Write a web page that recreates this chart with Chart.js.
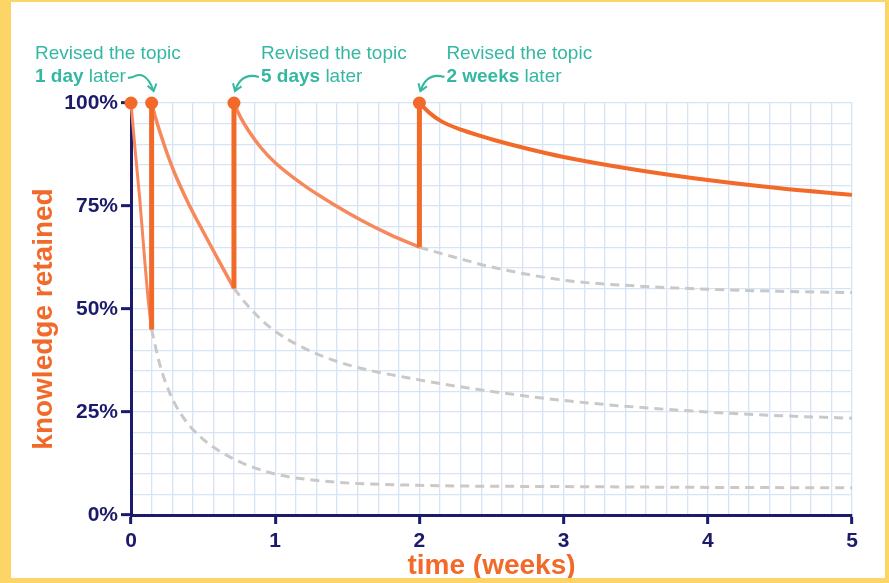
<!DOCTYPE html>
<html>
<head>
<meta charset="utf-8">
<script src="https://cdn.jsdelivr.net/npm/chart.js@4.4.1/dist/chart.umd.min.js"></script>
<style>
  body { margin: 0; width: 889px; height: 583px; background: #FDD466; overflow: hidden; }
  #wrap { position: absolute; left: 11px; top: 2px; width: 874px; height: 576px; background: #ffffff; }
</style>
</head>
<body>
<div id="wrap"><canvas id="chart" width="874" height="576"></canvas></div>
<script>
// tick labels
const weekLabels = [0, 1, 2, 3, 4, 5];
const percentLabels = [0, 25, 50, 75, 100];

// revision points (weeks) and retention just before each revision
const reviseX = [0, 0.143, 0.714, 2];
const reviseY = [100, 100, 100, 100];
const dropY = [45, 55, 65];
const reviseText = ['1 day', '5 days', '2 weeks'];

// solid forgetting curves [week, %]
const forget1 = [[0, 100], [0.03, 88], [0.06, 77], [0.09, 64], [0.12, 52], [0.143, 45]];
const forget2 = [[0.143, 100], [0.17, 96.5], [0.2, 93], [0.25, 87.8], [0.3, 83.2], [0.4, 75.5], [0.5, 68.8], [0.6, 62.3], [0.714, 55]];
const forget3 = [[0.714, 100], [0.76, 96.5], [0.82, 93], [0.9, 89.2], [1, 85.5], [1.2, 80], [1.4, 75.5], [1.6, 71.5], [1.8, 68], [2, 65]];
const forget4 = [[2, 100], [2.07, 97.6], [2.15, 95.6], [2.3, 93.4], [2.5, 91.2], [2.75, 88.9], [3, 86.9], [3.5, 83.8], [4, 81.3], [4.5, 79.3], [5, 77.7]];

// dashed "no revision" curves
const fade1 = [[0.143, 45], [0.2, 36.5], [0.27, 29.5], [0.35, 24.3], [0.48, 19], [0.69, 14], [0.96, 10.3], [1.31, 8.3], [2, 7.2], [3, 6.9], [4, 6.7], [5, 6.6]];
const fade2 = [[0.714, 55], [0.8, 51.2], [0.9, 47.5], [1.0, 44.6], [1.2, 40.5], [1.5, 36.5], [2, 32.8], [2.5, 30], [3, 27.8], [3.5, 26.2], [4, 25], [4.5, 24.1], [5, 23.5]];
const fade3 = [[2, 65], [2.25, 62.5], [2.5, 60.2], [3, 57], [3.5, 55.6], [4, 54.8], [4.5, 54.3], [5, 54]];

const NAVY = '#1C1A6B';
const ORANGE = '#F26A2A';
const LIGHT = '#F6885C';
const GREY = '#C9C9C9';
const TEAL = '#35B8A2';
const GRID = '#D6E4F4';

const pts = arr => arr.map(p => ({ x: p[0], y: p[1] }));

function solid(data, color, width) {
    return { data: pts(data), borderColor: color, borderWidth: width, pointRadius: 0,
        cubicInterpolationMode: 'monotone', fill: false, clip: false, order: 2 };
}
function dashed(data) {
    return { data: pts(data), borderColor: GREY, borderWidth: 3, borderDash: [9, 6], pointRadius: 0,
        cubicInterpolationMode: 'monotone', fill: false, clip: false, order: 3 };
}

const datasets = [
    dashed(fade1), dashed(fade2), dashed(fade3),
    solid(forget1, LIGHT, 3), solid(forget2, LIGHT, 3.5), solid(forget3, LIGHT, 3.5), solid(forget4, ORANGE, 4)
];
// vertical revision jumps
dropY.forEach((v, i) => {
    datasets.push({ data: [{ x: reviseX[i + 1], y: v }, { x: reviseX[i + 1], y: reviseY[i + 1] }],
        borderColor: ORANGE, borderWidth: 5, pointRadius: 0, tension: 0, clip: false, order: 1 });
});
// revision markers
datasets.push({ data: reviseX.map((x, i) => ({ x: x, y: reviseY[i] })), showLine: false,
    pointRadius: 6.5, pointBackgroundColor: ORANGE, pointBorderWidth: 0, clip: false, order: 0 });

const isInt = v => Math.abs(v - Math.round(v)) < 1e-6;

const annotations = {
    id: 'annotations',
    afterDraw(chart) {
        const ctx = chart.ctx;
        const xs = chart.scales.x, ys = chart.scales.y;
        const area = chart.chartArea;
        ctx.save();

        // axis titles
        ctx.fillStyle = ORANGE;
        ctx.font = 'bold 28px "Liberation Sans", Arial, sans-serif';
        ctx.textAlign = 'center';
        ctx.textBaseline = 'middle';
        ctx.fillText('time (weeks)', (area.left + area.right) / 2, 564);
        ctx.translate(33, (area.top + area.bottom) / 2 + 10);
        ctx.rotate(-Math.PI / 2);
        ctx.fillText('knowledge retained', 0, 0);
        ctx.restore();

        // "Revised the topic" notes
        ctx.save();
        ctx.fillStyle = TEAL;
        ctx.strokeStyle = TEAL;
        ctx.lineWidth = 2;
        ctx.textBaseline = 'alphabetic';
        ctx.textAlign = 'left';
        const top = ys.getPixelForValue(100);
        reviseText.forEach((txt, i) => {
            const mx = xs.getPixelForValue(reviseX[i + 1]);
            const left = i === 0 ? 24 : mx + 27;
            ctx.font = '19px "Liberation Sans", Arial, sans-serif';
            ctx.fillText('Revised the topic', left, 57);
            ctx.font = 'bold 19px "Liberation Sans", Arial, sans-serif';
            ctx.fillText(txt, left, 80);
            const bw = ctx.measureText(txt).width;
            ctx.font = '19px "Liberation Sans", Arial, sans-serif';
            ctx.fillText(' later', left + bw, 80);
            const lw = ctx.measureText(' later').width;

            ctx.beginPath();
            let tipX, tipY, ang;
            if (i === 0) {
                const sx = left + bw + lw + 2;
                ctx.moveTo(sx, 76);
                ctx.lineTo(sx + 5, 75);
                ctx.bezierCurveTo(sx + 12, 71, mx - 4, 72, mx + 2, top - 12);
                tipX = mx + 2; tipY = top - 12; ang = Math.atan2(8, 2);
            } else {
                const sx = left - 2;
                ctx.moveTo(sx, 75);
                ctx.bezierCurveTo(sx - 10, 72, mx + 6, 74, mx + 1, top - 12);
                tipX = mx + 1; tipY = top - 12; ang = Math.atan2(8, -3);
            }
            ctx.stroke();
            // arrow head
            ctx.beginPath();
            ctx.moveTo(tipX - 8 * Math.cos(ang - 0.6), tipY - 8 * Math.sin(ang - 0.6));
            ctx.lineTo(tipX, tipY);
            ctx.lineTo(tipX - 8 * Math.cos(ang + 0.6), tipY - 8 * Math.sin(ang + 0.6));
            ctx.stroke();
        });
        ctx.restore();
    }
};

new Chart(document.getElementById('chart'), {
    type: 'line',
    data: { datasets: datasets },
    options: {
        responsive: false,
        animation: false,
        layout: { padding: { top: 101, right: 33, left: 0, bottom: 0 } },
        plugins: { legend: { display: false }, tooltip: { enabled: false } },
        scales: {
            x: {
                type: 'linear', min: 0, max: 5,
                afterFit: s => { s.height = 63; },
                afterBuildTicks: s => {
                    const t = [];
                    for (let i = 0; i <= 35; i++) t.push({ value: i / 7 });
                    s.ticks = t;
                },
                ticks: {
                    autoSkip: false, maxRotation: 0, padding: 5,
                    color: NAVY,
                    font: { family: '"Liberation Sans", Arial, sans-serif', size: 21, weight: 'bold' },
                    callback: v => (isInt(v) && weekLabels.includes(Math.round(v))) ? String(Math.round(v)) : ''
                },
                grid: {
                    color: GRID, lineWidth: 1.3, tickLength: 9, tickWidth: 3,
                    tickColor: c => (c.tick && isInt(c.tick.value)) ? NAVY : 'rgba(0,0,0,0)'
                },
                border: { color: NAVY, width: 3 }
            },
            y: {
                min: 0, max: 100,
                afterFit: s => { s.width = 120; },
                ticks: {
                    stepSize: 5, autoSkip: false, padding: 3,
                    color: NAVY,
                    font: { family: '"Liberation Sans", Arial, sans-serif', size: 21, weight: 'bold' },
                    callback: v => percentLabels.includes(v) ? v + '%' : ''
                },
                grid: {
                    color: GRID, lineWidth: 1.3, tickLength: 10, tickWidth: 3,
                    tickColor: c => (c.tick && percentLabels.includes(c.tick.value)) ? NAVY : 'rgba(0,0,0,0)'
                },
                border: { color: NAVY, width: 3 }
            }
        }
    },
    plugins: [annotations]
});
</script>
</body>
</html>
